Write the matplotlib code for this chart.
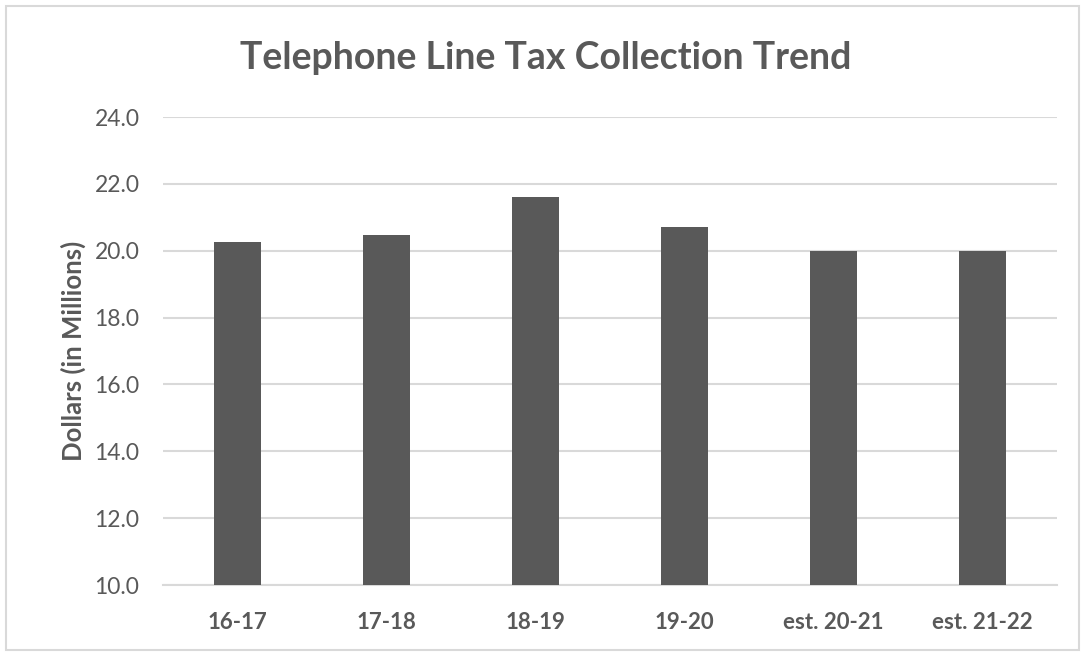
import matplotlib.pyplot as plt
from matplotlib.patches import Rectangle

years = ['16-17', '17-18', '18-19', '19-20', 'est. 20-21', 'est. 21-22']
collections = [20.25, 20.47, 21.62, 20.70, 20.0, 20.0]
y_ticks = [10.0, 12.0, 14.0, 16.0, 18.0, 20.0, 22.0, 24.0]

text_gray = '#595959'
bar_gray = '#595959'
grid_gray = '#d9d9d9'


def main():
    plt.rcParams['font.family'] = ['Lato', 'DejaVu Sans']

    fig = plt.figure(figsize=(10.88, 6.55), dpi=100)
    # plot area in pixels: left 163, right 1057, top 117, bottom 585
    ax = fig.add_axes([163 / 1088, 1 - 585 / 655, (1057 - 163) / 1088, (585 - 117) / 655])

    ax.bar(range(len(years)), collections, width=0.31, color=bar_gray, zorder=3)

    ax.set_ylim(10, 24)
    ax.set_xlim(-0.5, len(years) - 0.5)
    ax.set_yticks(y_ticks)
    ax.set_yticklabels([f'{v:.1f}' for v in y_ticks], fontsize=16.5, color=text_gray)
    ax.set_xticks(range(len(years)))
    ax.set_xticklabels(years, fontsize=16, fontweight='bold', color=text_gray)
    ax.tick_params(axis='both', length=0)
    ax.tick_params(axis='y', pad=17)
    ax.tick_params(axis='x', pad=19.5)

    ax.grid(axis='y', color=grid_gray, linewidth=1.5, zorder=0)
    for side in ['top', 'right', 'left']:
        ax.spines[side].set_visible(False)
    ax.spines['bottom'].set_color(grid_gray)
    ax.spines['bottom'].set_linewidth(1.5)

    ax.set_ylabel('Dollars (in Millions)', fontsize=18.5, fontweight='bold', color=text_gray, labelpad=6)

    fig.text(546 / 1088, 1 - 58 / 655, 'Telephone Line Tax Collection Trend',
             ha='center', va='center', fontsize=27, fontweight='bold', color=text_gray)

    # light chart border
    fig.patches.append(Rectangle((6 / 1088, 5 / 655), 1073 / 1088, 644 / 655,
                                 transform=fig.transFigure, fill=False,
                                 edgecolor=grid_gray, linewidth=1.5))

    fig.savefig('out.png', dpi=100)
    plt.close(fig)


if __name__ == '__main__':
    main()
